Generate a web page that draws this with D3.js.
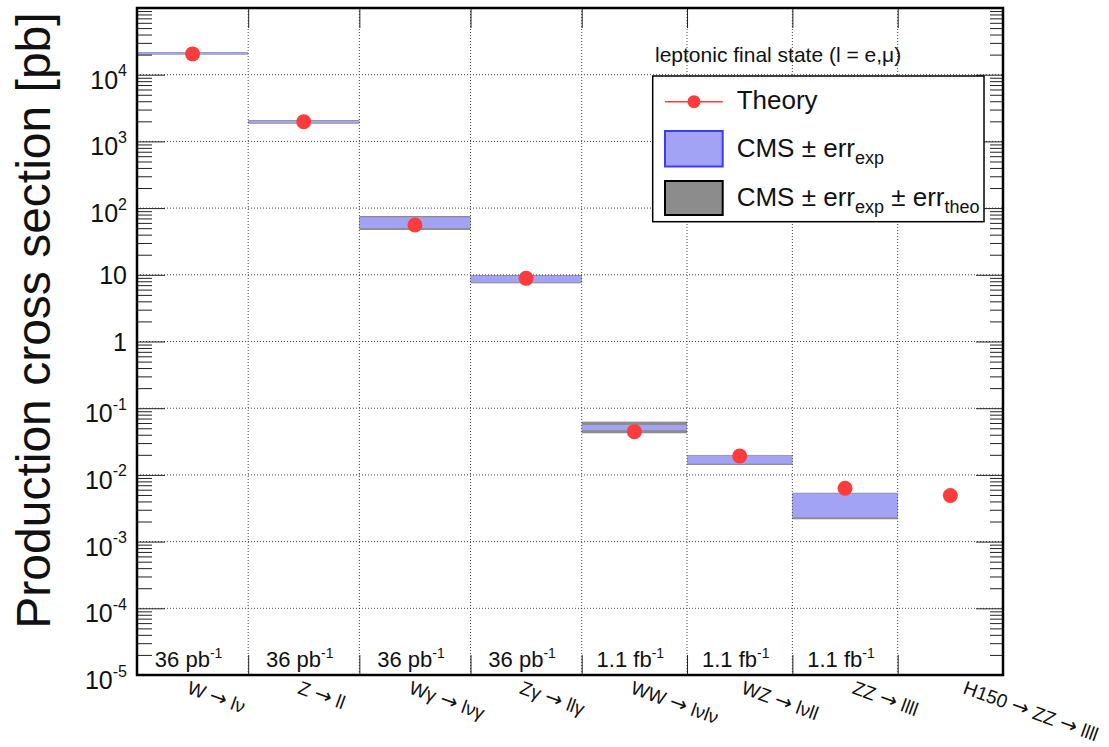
<!DOCTYPE html>
<html><head><meta charset="utf-8">
<script src="https://cdn.jsdelivr.net/npm/d3@7"></script>
<style>
body{margin:0;background:#fff}
svg{display:block}
text{font-family:"Liberation Sans",Arial,Helvetica,sans-serif;fill:#111}
</style>
</head><body>
<svg id="c" width="1109" height="747"></svg>
<script>
// ---- data ----
const categories = ["W \u2192 l\u03bd", "Z \u2192 ll", "W\u03b3 \u2192 l\u03bd\u03b3", "Z\u03b3 \u2192 ll\u03b3",
                    "WW \u2192 l\u03bdl\u03bd", "WZ \u2192 l\u03bdll", "ZZ \u2192 llll", "H150 \u2192 ZZ \u2192 llll"];
const lumiBase = ["36 pb", "36 pb", "36 pb", "36 pb", "1.1 fb", "1.1 fb", "1.1 fb"];
const lumiSup = ["-1", "-1", "-1", "-1", "-1", "-1", "-1"];
const theory = [2.05e4, 1970, 55.8, 8.85, 0.0445, 0.0192, 0.0063, 0.0049];
const cmsExpLow  = [2.03e4, 1890, 50.1, 7.7,  0.0468, 0.0147, 0.00231, null];
const cmsExpHigh = [2.15e4, 2040, 72.8, 9.7,  0.0562, 0.0196, 0.00528, null];
const cmsTotLow  = [2.00e4, 1840, 47.0, 7.45, 0.0421, 0.0141, 0.00216, null];
const cmsTotHigh = [2.18e4, 2090, 76.2, 9.93, 0.0628, 0.0199, 0.00540, null];
const yTickValues = [1e-5, 1e-4, 1e-3, 1e-2, 1e-1, 1, 10, 1e2, 1e3, 1e4];
const yTickBase = ["10", "10", "10", "10", "10", "1", "10", "10", "10", "10"];
const yTickSup  = ["-5", "-4", "-3", "-2", "-1", "", "", "2", "3", "4"];
const legendHeader = "leptonic final state (l = e,\u03bc)";

// ---- layout ----
const L = 137, R = 1003, T = 8, B = 675;
const RED = "#ff3b3b", BLUE = "#a3a3f5", BLUE_EDGE = "#3b3bff", GREY = "#8c8c8c";
const svg = d3.select("#c");
const x = d3.scaleLinear().domain([0, 4, 8]).range([L, 581.7, R]);
const y = d3.scaleLog().domain([1e-5, 1e5]).range([B, T]);
const xl = d3.scaleLinear().domain([0, 7]).range([186, 962]);

const minor = [];
for (let k = -5; k <= 4; k++) for (let m = 2; m <= 9; m++) minor.push(m * Math.pow(10, k));
const innerDecades = yTickValues.slice(1);
const edges = d3.range(1, 8);

// ---- boxes ----
const idx = d3.range(categories.length).filter(i => cmsTotLow[i] != null);
const gb = svg.append("g");
gb.selectAll("rect.tot").data(idx).join("rect").attr("class", "tot")
  .attr("x", i => x(i)).attr("width", i => x(i + 1) - x(i))
  .attr("y", i => y(cmsTotHigh[i])).attr("height", i => y(cmsTotLow[i]) - y(cmsTotHigh[i]))
  .attr("fill", GREY);
gb.selectAll("rect.exp").data(idx).join("rect").attr("class", "exp")
  .attr("x", i => x(i)).attr("width", i => x(i + 1) - x(i))
  .attr("y", i => y(cmsExpHigh[i])).attr("height", i => y(cmsExpLow[i]) - y(cmsExpHigh[i]))
  .attr("fill", BLUE);

// ---- grid ----
const gg = svg.append("g").attr("stroke", "#444").attr("stroke-width", 1).attr("stroke-dasharray", "1,2");
gg.selectAll("line.v").data(edges).join("line").attr("class", "v")
  .attr("x1", d => x(d)).attr("x2", d => x(d)).attr("y1", T).attr("y2", B);
gg.selectAll("line.h").data(innerDecades).join("line").attr("class", "h")
  .attr("x1", L).attr("x2", R).attr("y1", d => y(d)).attr("y2", d => y(d));

// ---- axes ticks ----
function clean(g) { g.select(".domain").remove(); g.selectAll("line").attr("stroke", "#222"); g.selectAll("text").remove(); }
svg.append("g").attr("transform", `translate(${L},0)`)
  .call(d3.axisLeft(y).tickValues(innerDecades).tickSize(-28).tickFormat("")).call(clean);
svg.append("g").attr("transform", `translate(${L},0)`)
  .call(d3.axisLeft(y).tickValues(minor).tickSize(-15).tickFormat("")).call(clean);
svg.append("g").attr("transform", `translate(${R},0)`)
  .call(d3.axisRight(y).tickValues(innerDecades).tickSize(-27).tickFormat("")).call(clean);
svg.append("g").attr("transform", `translate(${R},0)`)
  .call(d3.axisRight(y).tickValues(minor).tickSize(-13).tickFormat("")).call(clean);
svg.append("g").attr("transform", `translate(0,${B})`)
  .call(d3.axisBottom(x).tickValues(edges).tickSize(-20).tickFormat("")).call(clean);
svg.append("g").attr("transform", `translate(0,${T})`)
  .call(d3.axisTop(x).tickValues(edges).tickSize(-20).tickFormat("")).call(clean);

// ---- theory points ----
svg.append("g").selectAll("circle").data(theory).join("circle")
  .attr("cx", (d, i) => x(i + 0.5)).attr("cy", d => y(d)).attr("r", 7.5).attr("fill", RED);

// ---- frame ----
svg.append("rect").attr("x", L).attr("y", T).attr("width", R - L).attr("height", B - T)
  .attr("fill", "none").attr("stroke", "#000").attr("stroke-width", 2.5);

// ---- y tick labels ----
const yl = svg.append("g");
yTickValues.forEach((v, i) => {
  const t = yl.append("text").attr("x", 127).attr("y", y(v) + (yTickSup[i] ? 14 : 9))
    .attr("text-anchor", "end").attr("font-size", 25);
  t.append("tspan").text(yTickBase[i]);
  if (yTickSup[i]) t.append("tspan").attr("font-size", 16).attr("dy", -12.5).text(yTickSup[i]);
});

// ---- y title ----
svg.append("text").attr("transform", "translate(50,320.5) rotate(-90)")
  .attr("text-anchor", "middle").attr("font-size", 48).text("Production cross section [pb]");

// ---- lumi labels ----
lumiBase.forEach((s, i) => {
  const t = svg.append("text").attr("x", x(i + 0.5) - 4).attr("y", 667)
    .attr("text-anchor", "middle").attr("font-size", 22);
  t.append("tspan").text(s);
  t.append("tspan").attr("font-size", 14).attr("dy", -9).text(lumiSup[i]);
});

// ---- category labels ----
svg.append("g").selectAll("text").data(categories).join("text")
  .attr("transform", (d, i) => `translate(${xl(i)},693) rotate(20)`)
  .attr("font-size", 19)
  .each(function (d) {
    const t = d3.select(this);
    d.split(/(\u2192)/).forEach(part => {
      if (part === "\u2192") t.append("tspan").style("font-family", "'DejaVu Sans'").attr("font-size", 21).text(part);
      else t.append("tspan").text(part);
    });
  });

// ---- legend ----
svg.append("text").attr("x", 655).attr("y", 62).attr("font-size", 21).text(legendHeader);
const lg = svg.append("g");
lg.append("rect").attr("x", 652.7).attr("y", 76).attr("width", 331.3).attr("height", 145.7)
  .attr("fill", "#fff").attr("stroke", "#000").attr("stroke-width", 1.5);
lg.append("line").attr("x1", 665).attr("x2", 722.7).attr("y1", 101.7).attr("y2", 101.7)
  .attr("stroke", RED).attr("stroke-width", 1.5);
lg.append("circle").attr("cx", 694).attr("cy", 101.7).attr("r", 6.5).attr("fill", RED);
lg.append("text").attr("x", 736.7).attr("y", 109).attr("font-size", 26).text("Theory");
lg.append("rect").attr("x", 665).attr("y", 131).attr("width", 57.7).attr("height", 35.5)
  .attr("fill", BLUE).attr("stroke", BLUE_EDGE).attr("stroke-width", 2);
const t2 = lg.append("text").attr("x", 736.7).attr("y", 157).attr("font-size", 26);
t2.append("tspan").text("CMS \u00b1 err");
t2.append("tspan").attr("font-size", 18).attr("dy", 7).text("exp");
lg.append("rect").attr("x", 665).attr("y", 181).attr("width", 57.7).attr("height", 34)
  .attr("fill", GREY).attr("stroke", "#000").attr("stroke-width", 2);
const t3 = lg.append("text").attr("x", 736.7).attr("y", 205.5).attr("font-size", 26);
t3.append("tspan").text("CMS \u00b1 err");
t3.append("tspan").attr("font-size", 18).attr("dy", 7).text("exp");
t3.append("tspan").attr("dy", -7).text(" \u00b1 err");
t3.append("tspan").attr("font-size", 18).attr("dy", 7).text("theo");
</script>
</body></html>
